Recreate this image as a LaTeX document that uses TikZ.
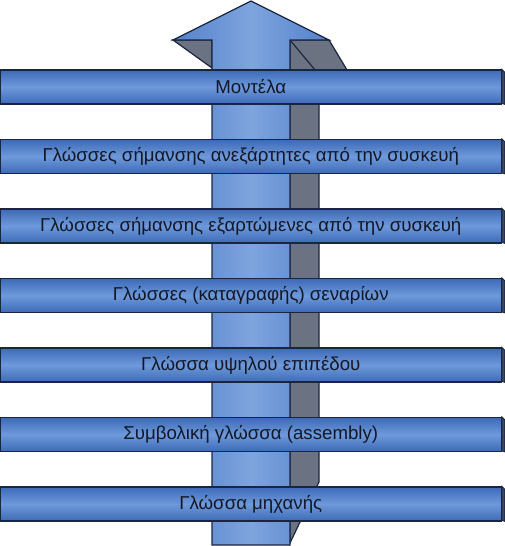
\documentclass[tikz,border=0pt]{standalone}
\usepackage{fontspec}
\setmainfont{Liberation Sans}
\definecolor{edgeblue}{HTML}{1A2540}
\definecolor{barbase}{HTML}{3D6AB8}
\definecolor{barlight}{HTML}{6E99DA}
\definecolor{shaftbase}{HTML}{5281CB}
\definecolor{shaftlight}{HTML}{7FA4DE}
\definecolor{backgray}{HTML}{6B7382}
\definecolor{sidedark}{HTML}{3A4A68}
\definecolor{labeltext}{HTML}{141826}
\begin{document}
\begin{tikzpicture}[x=0.75pt,y=0.75pt,yscale=-1,xscale=1,
  bar/.style={draw=edgeblue, line width=0.9pt, top color=barbase, bottom color=barbase, middle color=barlight,
    minimum width=375.75pt, minimum height=25.5pt, inner sep=0pt, text=labeltext,
    font=\fontsize{14}{16}\selectfont},
  barside/.style={draw=edgeblue, line width=0.6pt, fill=sidedark},
  backface/.style={draw=edgeblue, line width=0.9pt, fill=backgray},
  frontface/.style={draw=edgeblue, line width=0.9pt, left color=shaftbase, right color=shaftbase, middle color=shaftlight}]
\useasboundingbox (0,0) rectangle (505,546);

%Shape: back of arrow, right
\draw [backface] (290,40) -- (329,40) -- (347,70) -- (347,96) -- (319,104) -- (319,482) -- (290,543) -- cycle ;
\draw [edgeblue, line width=0.9pt] (290,40) -- (315,70) ;
%Shape: back of arrow, left
\draw [backface] (173,40) -- (212,40) -- (212,68) -- cycle ;
%Shape: front of arrow
\draw [frontface] (251,1) -- (329,40) -- (290,40) -- (290,545) -- (212,545) -- (212,40) -- (173,40) -- cycle ;

% Bars
\node [bar] (models) at (250.75,87) {Μοντέλα};
\node [bar] (indep) at (250.75,156.5) {Γλώσσες σήμανσης ανεξάρτητες από την συσκευή};
\node [bar] (dep) at (250.75,226) {Γλώσσες σήμανσης εξαρτώμενες από την συσκευή};
\node [bar] (script) at (250.75,295.5) {Γλώσσες (καταγραφής) σεναρίων};
\node [bar] (high) at (250.75,365) {Γλώσσα υψηλού επιπέδου};
\node [bar] (asm) at (250.75,434.5) {Συμβολική γλώσσα (assembly)};
\node [bar] (machine) at (250.75,504) {Γλώσσα μηχανής};

% Bar sides
\foreach \b in {models,indep,dep,script,high,asm,machine}
  \draw [barside] (\b.north east) -- ++(3,3) -- ++(0,32) -- ++(-3,-1) -- cycle ;

\end{tikzpicture}
\end{document}
